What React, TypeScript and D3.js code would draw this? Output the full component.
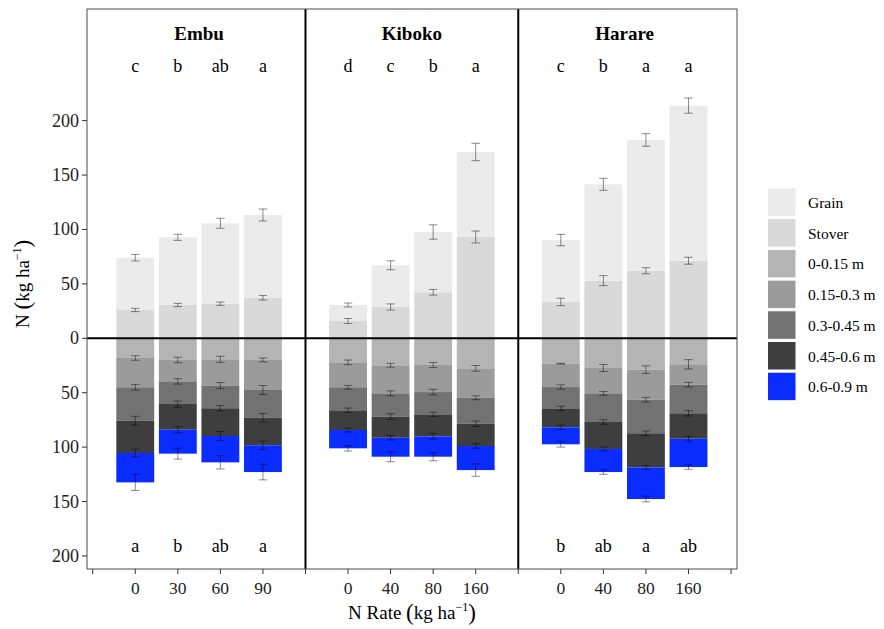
import React from "react"
import * as d3 from "d3"

// Sites and N rates (one facet per site)
const sites = ["Embu", "Kiboko", "Harare"]
const rates = [
	["0", "30", "60", "90"],
	["0", "40", "80", "160"],
	["0", "40", "80", "160"],
]
const topLetters = [
	["c", "b", "ab", "a"],
	["d", "c", "b", "a"],
	["c", "b", "a", "a"],
]
const bottomLetters = [
	["a", "b", "ab", "a"],
	["", "", "", ""],
	["b", "ab", "a", "ab"],
]

// N uptake above ground (kg/ha), 12 bars: Embu x4, Kiboko x4, Harare x4
const stover = [26, 30.6, 31.8, 37.3, 15.9, 28.8, 42.3, 93.1, 33.4, 53, 62.1, 71.3]
const grain = [48.1, 62.2, 73.9, 76, 14.7, 38.3, 55.4, 78.1, 56.9, 88.5, 120.2, 142.5]
// Soil mineral N by depth (kg/ha)
const soil1 = [18.1, 19.9, 19.3, 19.9, 22.1, 24.8, 24.5, 27.6, 23.3, 27.3, 28.8, 23.9]
const soil2 = [26.9, 19.7, 24.2, 27.6, 22.9, 25.8, 24.9, 27.0, 21.5, 23.3, 27.6, 18.7]
const soil3 = [30.7, 20.8, 20.8, 25.5, 21.2, 21.4, 20.5, 23.9, 19.6, 26.3, 30.9, 26.3]
const soil4 = [29.7, 23.6, 25.5, 25.3, 18.1, 19.4, 20.2, 20.5, 17.4, 24.8, 31.3, 23.4]
const soil5 = [27.0, 22.0, 24.2, 24.6, 16.8, 17.4, 18.7, 22.1, 15.6, 21.2, 29.1, 26.0]

// Standard errors
const stoverSE = [1.5, 1.5, 1.5, 2.1, 2.3, 2.8, 2.6, 5.5, 3.4, 4.6, 2.8, 3.2]
const grainSE = [3, 2.8, 4.6, 5.5, 1.8, 4.1, 6.6, 8, 5.2, 5.5, 5.8, 7]
const soil1SE = [2.1, 2.5, 2.8, 1.8, 2.1, 1.8, 2.3, 2.6, 0.3, 3.2, 3.5, 4.3]
const soil2SE = [2.6, 2.5, 2.8, 4.1, 1.7, 2.3, 2.5, 1.8, 2, 1.7, 2.1, 2.1]
const soil3SE = [4, 2.8, 2.5, 4, 2.1, 2.6, 2, 2.5, 2, 2.1, 2.1, 2.5]
const soil4SE = [3.5, 2.8, 4.1, 3.8, 1.8, 2.1, 2.6, 2.1, 2.1, 1.8, 1.8, 2.3]
const soil5SE = [7.4, 5, 6.1, 7.2, 2.5, 4.6, 3.7, 5.7, 2.6, 2.1, 2.6, 2.1]

const layerNames = ["Grain", "Stover", "0-0.15 m", "0.15-0.3 m", "0.3-0.45 m", "0.45-0.6 m", "0.6-0.9 m"]
const layerColors = ["#ebebeb", "#d9d9d9", "#b4b4b4", "#9b9b9b", "#727272", "#3e3e3e", "#0a2cff"]
const yTicks = [-200, -150, -100, -50, 0, 50, 100, 150, 200]

const W = 884
const H = 629
const plot = { left: 87, right: 737, top: 9, bottom: 569 }
const font = "'Liberation Serif', 'Times New Roman', serif"

const App = () => {
	const x = d3.scaleLinear().domain([-0.134, 15.14]).range([plot.left, plot.right])
	const y = d3.scaleLinear().domain([-212, 302.6]).range([plot.bottom, plot.top])
	const unit = x(1) - x(0)
	const barW = unit * 0.89
	const capW = unit * 0.1

	// build a table, soil values negative so they stack below zero
	const keys = ["stover", "grain", "s1", "s2", "s3", "s4", "s5"]
	const seOf = { stover: stoverSE, grain: grainSE, s1: soil1SE, s2: soil2SE, s3: soil3SE, s4: soil4SE, s5: soil5SE }
	const colorOf = {
		grain: layerColors[0], stover: layerColors[1], s1: layerColors[2], s2: layerColors[3],
		s3: layerColors[4], s4: layerColors[5], s5: layerColors[6],
	}
	const table = stover.map((_, i) => ({
		pos: Math.floor(i / 4) * 5 + (i % 4) + 1,
		stover: stover[i],
		grain: grain[i],
		s1: -soil1[i],
		s2: -soil2[i],
		s3: -soil3[i],
		s4: -soil4[i],
		s5: -soil5[i],
	}))
	const series = d3.stack().keys(keys).offset(d3.stackOffsetDiverging)(table)

	const xTickPos = d3.range(0, 16)
	const xTickLabel = p => {
		if (p % 5 === 0) return ""
		return rates[Math.floor(p / 5)][(p % 5) - 1]
	}

	return (
		<svg width={W} height={H} style={{ position: "absolute", left: 0, top: 0, fontFamily: font }}>
			<rect x={0} y={0} width={W} height={H} fill="#fff" />

			{/* bars */}
			{series.map(s => (
				<g key={s.key}>
					{s.map((d, i) => (
						<rect
							key={i}
							x={x(d.data.pos) - barW / 2}
							width={barW}
							y={y(d[1])}
							height={y(d[0]) - y(d[1])}
							fill={colorOf[s.key]}
						/>
					))}
				</g>
			))}

			{/* error bars at the outer edge of each segment */}
			{series.map(s => (
				<g key={"e" + s.key} stroke="#000" strokeOpacity={0.45} strokeWidth={1}>
					{s.map((d, i) => {
						const edge = s.key === "stover" || s.key === "grain" ? d[1] : d[0]
						const se = seOf[s.key][i]
						const cx = x(d.data.pos)
						const y1 = y(edge + se)
						const y2 = y(edge - se)
						return (
							<g key={i}>
								<line x1={cx} x2={cx} y1={y1} y2={y2} />
								<line x1={cx - capW} x2={cx + capW} y1={y1} y2={y1} />
								<line x1={cx - capW} x2={cx + capW} y1={y2} y2={y2} />
							</g>
						)
					})}
				</g>
			))}

			{/* zero line and facet separators */}
			<line x1={plot.left} x2={plot.right} y1={y(0)} y2={y(0)} stroke="#000" strokeWidth={2} />
			{[5, 10].map(p => (
				<line key={p} x1={x(p)} x2={x(p)} y1={plot.top} y2={plot.bottom} stroke="#000" strokeWidth={2} />
			))}

			{/* panel border */}
			<rect
				x={plot.left}
				y={plot.top}
				width={plot.right - plot.left}
				height={plot.bottom - plot.top}
				fill="none"
				stroke="#4d4d4d"
				strokeWidth={1}
			/>

			{/* site titles and letters */}
			{sites.map((site, s) => (
				<g key={site}>
					<text x={x(s * 5 + 2.5)} y={y(280)} textAnchor="middle" dominantBaseline="central" fontSize={19} fontWeight="bold">
						{site}
					</text>
					{topLetters[s].map((l, i) => (
						<text key={"t" + i} x={x(s * 5 + i + 1)} y={y(250)} textAnchor="middle" dominantBaseline="central" fontSize={18}>
							{l}
						</text>
					))}
					{bottomLetters[s].map((l, i) => (
						<text key={"b" + i} x={x(s * 5 + i + 1)} y={y(-191)} textAnchor="middle" dominantBaseline="central" fontSize={18}>
							{l}
						</text>
					))}
				</g>
			))}

			{/* y axis */}
			{yTicks.map(t => (
				<g key={t}>
					<line x1={plot.left - 5} x2={plot.left} y1={y(t)} y2={y(t)} stroke="#333" />
					<text x={plot.left - 8} y={y(t)} textAnchor="end" dominantBaseline="central" fontSize={18} fill="#222">
						{Math.abs(t)}
					</text>
				</g>
			))}

			{/* x axis */}
			{xTickPos.map(p => (
				<g key={p}>
					<line x1={x(p)} x2={x(p)} y1={plot.bottom} y2={plot.bottom + 5} stroke="#333" />
					<text x={x(p)} y={594} textAnchor="middle" fontSize={17.5} fill="#222">
						{xTickLabel(p)}
					</text>
				</g>
			))}

			{/* axis titles */}
			<text x={(plot.left + plot.right) / 2} y={619} textAnchor="middle" fontSize={19}>
				N Rate <tspan fontSize={23} dy={1}>(</tspan>
				<tspan dy={-1}>kg ha</tspan>
				<tspan fontSize={12} dy={-8}>−1</tspan>
				<tspan fontSize={23} dy={9}>)</tspan>
			</text>
			<text transform={`translate(29,${y(50)}) rotate(-90)`} textAnchor="middle" fontSize={19}>
				N <tspan fontSize={23} dy={1}>(</tspan>
				<tspan dy={-1}>kg ha</tspan>
				<tspan fontSize={12} dy={-8}>−1</tspan>
				<tspan fontSize={23} dy={9}>)</tspan>
			</text>

			{/* legend */}
			{layerNames.map((name, i) => (
				<g key={name} transform={`translate(767.5,${188 + i * 30.7})`}>
					<rect width={28.5} height={28.5} fill={layerColors[i]} stroke="#fff" strokeWidth={1} />
					<text x={40.5} y={14.5} dominantBaseline="central" fontSize={15.5}>
						{name}
					</text>
				</g>
			))}
		</svg>
	)
}

export default App
